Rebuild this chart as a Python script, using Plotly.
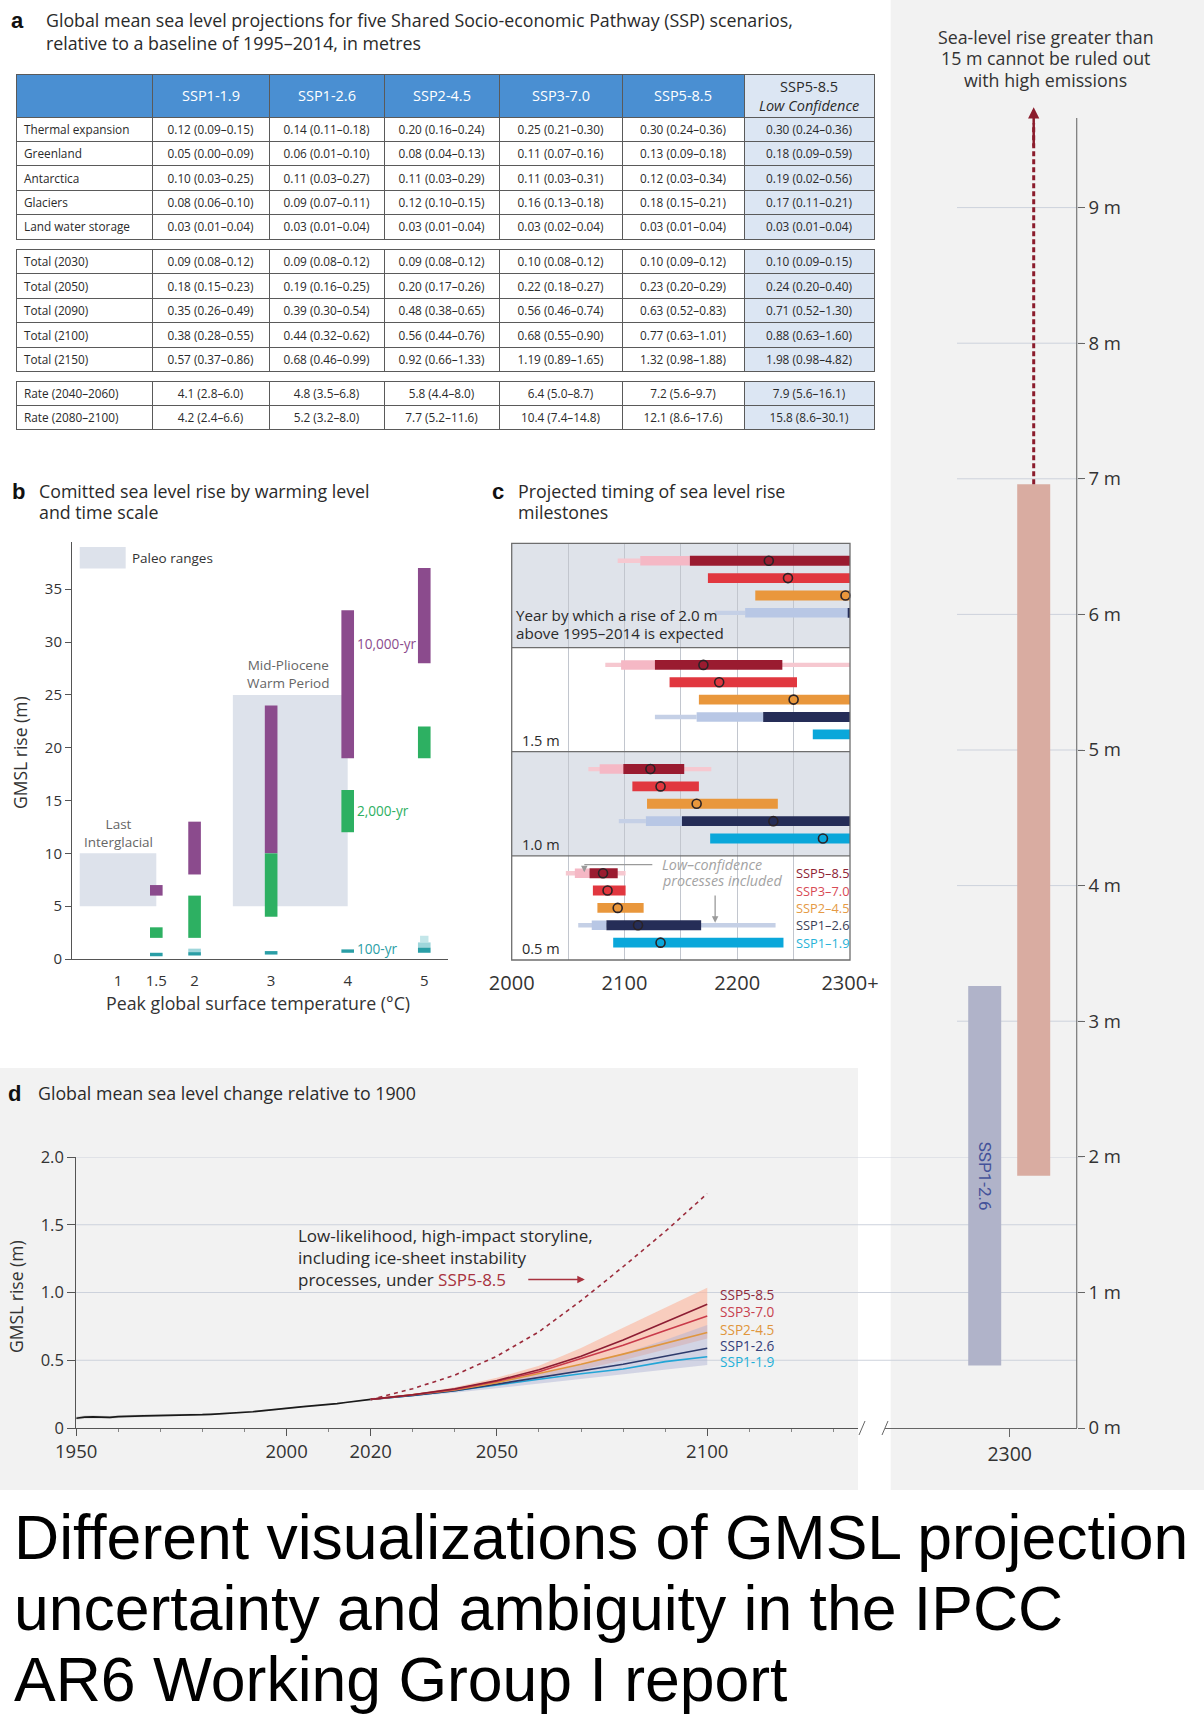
import plotly.graph_objects as go

W, H = 1204, 1722
FONT = "Open Sans"

# ---------------- Panel a : table values ----------------
table_header = ["", "SSP1-1.9", "SSP1-2.6", "SSP2-4.5", "SSP3-7.0", "SSP5-8.5",
                "SSP5-8.5<br><i>Low Confidence</i>"]
contrib_labels = ["Thermal expansion", "Greenland", "Antarctica", "Glaciers", "Land water storage"]
contrib_values = [
    ["0.12 (0.09–0.15)", "0.14 (0.11–0.18)", "0.20 (0.16–0.24)", "0.25 (0.21–0.30)", "0.30 (0.24–0.36)", "0.30 (0.24–0.36)"],
    ["0.05 (0.00–0.09)", "0.06 (0.01–0.10)", "0.08 (0.04–0.13)", "0.11 (0.07–0.16)", "0.13 (0.09–0.18)", "0.18 (0.09–0.59)"],
    ["0.10 (0.03–0.25)", "0.11 (0.03–0.27)", "0.11 (0.03–0.29)", "0.11 (0.03–0.31)", "0.12 (0.03–0.34)", "0.19 (0.02–0.56)"],
    ["0.08 (0.06–0.10)", "0.09 (0.07–0.11)", "0.12 (0.10–0.15)", "0.16 (0.13–0.18)", "0.18 (0.15–0.21)", "0.17 (0.11–0.21)"],
    ["0.03 (0.01–0.04)", "0.03 (0.01–0.04)", "0.03 (0.01–0.04)", "0.03 (0.02–0.04)", "0.03 (0.01–0.04)", "0.03 (0.01–0.04)"],
]
total_labels = ["Total (2030)", "Total (2050)", "Total (2090)", "Total (2100)", "Total (2150)"]
total_values = [
    ["0.09 (0.08–0.12)", "0.09 (0.08–0.12)", "0.09 (0.08–0.12)", "0.10 (0.08–0.12)", "0.10 (0.09–0.12)", "0.10 (0.09–0.15)"],
    ["0.18 (0.15–0.23)", "0.19 (0.16–0.25)", "0.20 (0.17–0.26)", "0.22 (0.18–0.27)", "0.23 (0.20–0.29)", "0.24 (0.20–0.40)"],
    ["0.35 (0.26–0.49)", "0.39 (0.30–0.54)", "0.48 (0.38–0.65)", "0.56 (0.46–0.74)", "0.63 (0.52–0.83)", "0.71 (0.52–1.30)"],
    ["0.38 (0.28–0.55)", "0.44 (0.32–0.62)", "0.56 (0.44–0.76)", "0.68 (0.55–0.90)", "0.77 (0.63–1.01)", "0.88 (0.63–1.60)"],
    ["0.57 (0.37–0.86)", "0.68 (0.46–0.99)", "0.92 (0.66–1.33)", "1.19 (0.89–1.65)", "1.32 (0.98–1.88)", "1.98 (0.98–4.82)"],
]
rate_labels = ["Rate (2040–2060)", "Rate (2080–2100)"]
rate_values = [
    ["4.1 (2.8–6.0)", "4.8 (3.5–6.8)", "5.8 (4.4–8.0)", "6.4 (5.0–8.7)", "7.2 (5.6–9.7)", "7.9 (5.6–16.1)"],
    ["4.2 (2.4–6.6)", "5.2 (3.2–8.0)", "7.7 (5.2–11.6)", "10.4 (7.4–14.8)", "12.1 (8.6–17.6)", "15.8 (8.6–30.1)"],
]

# ---------------- Panel b : committed sea level rise ----------------
b_warming = [1.5, 2, 3, 4, 5]
b_tick_vals = [1, 1.5, 2, 3, 4, 5]
b_tick_text = ["1", "1.5", "2", "3", "4", "5"]
b_yr10000_lo = [6, 8, 10, 19, 28]
b_yr10000_hi = [7, 13, 24, 33, 37]
b_yr2000_lo = [2, 2, 4, 12, 19]
b_yr2000_hi = [3, 6, 10, 16, 22]
b_yr100_lo = [0.26, 0.33, 0.42, 0.59, 0.59]
b_yr100_hi = [0.59, 0.65, 0.75, 0.91, 1.08]
b_yr100_lc_lo = [None, 0.65, None, None, 1.08]
b_yr100_lc_hi = [None, 0.98, None, None, 1.57]
b_yr100_lc2_lo = [None, None, None, None, 1.57]
b_yr100_lc2_hi = [None, None, None, None, 2.2]
paleo_names = ["Last<br>Interglacial", "Mid-Pliocene<br>Warm Period"]
paleo_temp_lo = [0.5, 2.5]
paleo_temp_hi = [1.5, 4.0]
paleo_gmsl_lo = [5, 5]
paleo_gmsl_hi = [10, 25]

# ---------------- Panel c : milestone timing ----------------
c_levels = ["2.0 m", "1.5 m", "1.0 m", "0.5 m"]
c_scenarios = ["SSP5–8.5", "SSP3–7.0", "SSP2–4.5", "SSP1–2.6", "SSP1–1.9"]
c_main_lo = [[2158, 2174, 2216, 2298.5, None], [2127, 2140, 2166, 2223, 2267],
             [2099, 2107, 2120, 2151, 2176], [2069, 2072, 2076, 2084, 2090]]
c_main_hi = [[2300, 2300, 2300, 2300, None], [2240, 2253, 2300, 2300, 2300],
             [2153, 2166, 2236, 2300, 2300], [2094, 2101, 2117, 2168, 2241]]
c_lowconf_lo = [[2114, None, None, 2207, None], [2097, None, None, 2164, None],
                [2078, None, None, 2119, None], [2056, None, None, 2071, None]]
c_lowconf_hi = [[2158, None, None, 2298.5, None], [2127, None, None, 2223, None],
                [2099, None, None, 2151, None], [2069, None, None, 2084, None]]
c_tail_lo = [[2094, None, None, 2180, None], [2083, None, None, 2127, None],
             [2068, None, None, 2095, None], [2048, None, None, 2059, None]]
c_tail_hi = [[2114, None, None, 2207, None], [2300, None, None, 2164, None],
             [2177, None, None, 2119, None], [2101, None, None, 2234, None]]
c_median = [[2228, 2245, 2296, None, None], [2170, 2184, 2250, None, None],
            [2123, 2132, 2164, 2232, 2276], [2081, 2085, 2094, 2112, 2132]]

# ---------------- Panel d : GMSL change relative to 1900 ----------------
obs_years = [1950, 1952, 1954, 1956, 1958, 1960, 1962, 1964, 1966, 1968, 1970, 1972,
             1974, 1976, 1978, 1980, 1982, 1984, 1986, 1988, 1990, 1992, 1994, 1996,
             1998, 2000, 2002, 2004, 2006, 2008, 2010, 2012, 2014, 2016, 2018, 2020]
obs_gmsl = [0.072, 0.080, 0.082, 0.080, 0.078, 0.084, 0.088, 0.087, 0.089, 0.090, 0.091, 0.090,
            0.092, 0.094, 0.095, 0.098, 0.101, 0.104, 0.109, 0.112, 0.116, 0.120, 0.127, 0.134,
            0.138, 0.144, 0.152, 0.158, 0.163, 0.167, 0.172, 0.180, 0.188, 0.196, 0.203, 0.211]
obs_unc = [0.012, 0.012, 0.012, 0.011, 0.011, 0.011, 0.010, 0.010, 0.010, 0.009, 0.009, 0.009,
           0.008, 0.008, 0.008, 0.007, 0.007, 0.007, 0.006, 0.006, 0.006, 0.005, 0.005, 0.005,
           0.005, 0.004, 0.004, 0.004, 0.004, 0.004, 0.004, 0.004, 0.004, 0.004, 0.004, 0.004]
proj_years = [2020, 2030, 2040, 2050, 2060, 2070, 2080, 2090, 2100]
proj_ssp585 = [0.211, 0.245, 0.29, 0.35, 0.43, 0.53, 0.65, 0.78, 0.914]
proj_ssp370 = [0.211, 0.245, 0.285, 0.345, 0.415, 0.51, 0.61, 0.72, 0.826]
proj_ssp245 = [0.211, 0.243, 0.28, 0.335, 0.40, 0.47, 0.545, 0.625, 0.705]
proj_ssp126 = [0.211, 0.24, 0.275, 0.325, 0.375, 0.425, 0.47, 0.53, 0.588]
proj_ssp119 = [0.211, 0.24, 0.275, 0.32, 0.36, 0.40, 0.435, 0.49, 0.526]
band585_hi = [0.211, 0.25, 0.30, 0.37, 0.46, 0.59, 0.74, 0.89, 1.035]
band585_lo = [0.211, 0.24, 0.275, 0.32, 0.37, 0.43, 0.50, 0.58, 0.66]
band126_hi = [0.211, 0.245, 0.285, 0.34, 0.40, 0.47, 0.55, 0.65, 0.76]
band126_lo = [0.211, 0.232, 0.26, 0.295, 0.33, 0.36, 0.395, 0.43, 0.465]
storyline = [0.211, 0.29, 0.39, 0.53, 0.71, 0.94, 1.19, 1.45, 1.73]
d_labels = ["SSP5-8.5", "SSP3-7.0", "SSP2-4.5", "SSP1-2.6", "SSP1-1.9"]
d_label_y = [0.986, 0.858, 0.728, 0.612, 0.489]

# ---------------- Right panel : 2300 projections ----------------
r_scenarios = ["SSP1-2.6", "SSP5-8.5"]
r_lo = [0.46, 1.86]
r_hi = [3.26, 6.96]
r_storyline_top = 9.74

# ================= helpers =================
def px_x(p):
    return p / W

def px_y(p):
    return 1 - p / H

fig = go.Figure()
ann = []


def add_text(text, x, y, size=14, color="#333", xref="paper", yref="paper", xanchor="left",
             yanchor="middle", family=FONT, align="left", **kw):
    if xref == "paper":
        x = px_x(x)
    if yref == "paper":
        y = px_y(y)
    ann.append(dict(text=text, x=x, y=y, xref=xref, yref=yref, xanchor=xanchor, yanchor=yanchor,
                    showarrow=False, align=align, font=dict(size=size, color=color, family=family), **kw))


def add_lines(lines, x, y0, step, **kw):
    for i, line in enumerate(lines):
        add_text(line, x, y0 + step * i, **kw)


# ---------- tables ----------
colw = [136, 117, 115, 115, 123, 122, 130]
TBL_LEFT, TBL_RIGHT = 16, 874
TBL_X = [px_x(TBL_LEFT), px_x(TBL_RIGHT)]
HDR_TOP, HDR_H = 74, 43
hdr_fill = ["#4a8fd2"] * 6 + ["#dce6f3"]
hdr_font = ["white"] * 6 + ["#2a2a2a"]
cell_fill = ["white"] * 6 + ["#dce6f3"]
ROW_H = 24.4
cell_font = dict(family=FONT, size=11.8, color="#2a2a2a")
cell_align = ["left"] + ["center"] * 6
cell_line = dict(color="#5a5a5a", width=1)


def add_table(labels, rows, top, with_col_header):
    cols = [labels] + [[r[i] for r in rows] for i in range(len(rows[0]))]
    if with_col_header:
        header = dict(values=[""] * len(table_header), height=HDR_H, align="center",
                      fill=dict(color=hdr_fill), line=cell_line,
                      font=dict(family=FONT, size=12, color=hdr_font))
        cells_vals = cols
        bottom = top + HDR_H + ROW_H * len(labels) + 8
    else:
        # first data row of the group rendered in the header slot, styled like a body row
        header = dict(values=[c[0] for c in cols], height=ROW_H, align=cell_align,
                      fill=dict(color=cell_fill), line=cell_line, font=cell_font)
        cells_vals = [c[1:] for c in cols]
        bottom = top + ROW_H * len(labels) + 8
    fig.add_trace(go.Table(
        domain=dict(x=TBL_X, y=[px_y(bottom), px_y(top)]),
        columnwidth=colw, header=header,
        cells=dict(values=cells_vals, height=ROW_H, align=cell_align,
                   fill=dict(color=cell_fill), line=cell_line, font=cell_font)))


add_table(contrib_labels, contrib_values, HDR_TOP, True)
add_table(total_labels, total_values, 249.5, False)
add_table(rate_labels, rate_values, 381, False)

edge = TBL_LEFT
for i, (lab, w) in enumerate(zip(table_header, colw)):
    if lab:
        add_text(lab, edge + w / 2, HDR_TOP + HDR_H / 2 + 0.5, size=14.5, color=hdr_font[i],
                 xanchor="center", align="center")
    edge += w

# ---------- panel b ----------
fig.add_trace(go.Bar(
    x=[(a + b) / 2 for a, b in zip(paleo_temp_lo, paleo_temp_hi)],
    y=[h - l for l, h in zip(paleo_gmsl_lo, paleo_gmsl_hi)], base=paleo_gmsl_lo,
    width=[b - a for a, b in zip(paleo_temp_lo, paleo_temp_hi)],
    marker=dict(color="#dde2eb", line=dict(width=0)), xaxis="x", yaxis="y", hoverinfo="skip"))


def bbar(lo, hi, color, width=0.165):
    xs, ys, bs = [], [], []
    for t, l, h in zip(b_warming, lo, hi):
        if l is None:
            continue
        xs.append(t); ys.append(h - l); bs.append(l)
    fig.add_trace(go.Bar(x=xs, y=ys, base=bs, width=width, xaxis="x", yaxis="y",
                         marker=dict(color=color, line=dict(width=0)), hoverinfo="skip"))


bbar(b_yr10000_lo, b_yr10000_hi, "#8b4b8d")
bbar(b_yr2000_lo, b_yr2000_hi, "#2db062")
bbar(b_yr100_lc2_lo, b_yr100_lc2_hi, "#c3e6e9", 0.11)
bbar(b_yr100_lc_lo, b_yr100_lc_hi, "#9fd6db")
bbar(b_yr100_lo, b_yr100_hi, "#2a9ea6")

# ---------- panel c ----------
def crow(k, s):
    return 6 * k + s + 1


def cbars(lo_tab, hi_tab, colors, width):
    xs, ys, bs, cs = [], [], [], []
    for k in range(len(c_levels)):
        for s in range(len(c_scenarios)):
            lo, hi = lo_tab[k][s], hi_tab[k][s]
            if lo is None:
                continue
            xs.append(hi - lo); bs.append(lo); ys.append(crow(k, s)); cs.append(colors[s])
    fig.add_trace(go.Bar(x=xs, y=ys, base=bs, orientation="h", width=width,
                         marker=dict(color=cs, line=dict(width=0)),
                         xaxis="x2", yaxis="y2", hoverinfo="skip"))


c_main_color = ["#9a1b30", "#e1373f", "#e9973c", "#252d57", "#0aa7da"]
c_light_color = ["#f5b8c5", "#f5b8c5", "#f5b8c5", "#b8c7e5", "#b8c7e5"]
c_thin_color = ["#f6c8d0", "#f6c8d0", "#f6c8d0", "#c5d0e6", "#c5d0e6"]
c_label_color = ["#8e2233", "#d84a55", "#e59a45", "#3b3f58", "#27b3d8"]

cbars(c_tail_lo, c_tail_hi, c_thin_color, 0.25)
cbars(c_lowconf_lo, c_lowconf_hi, c_light_color, 0.55)
cbars(c_main_lo, c_main_hi, c_main_color, 0.57)

mx, my = [], []
for k in range(len(c_levels)):
    for s in range(len(c_scenarios)):
        if c_median[k][s] is not None:
            mx.append(c_median[k][s]); my.append(crow(k, s))
fig.add_trace(go.Scatter(x=mx, y=my, mode="markers", xaxis="x2", yaxis="y2", cliponaxis=False,
                         marker=dict(symbol="circle-open", size=9, color="#2a2226", line=dict(width=1.6)),
                         hoverinfo="skip"))

# ---------- panel d ----------
fig.add_trace(go.Scatter(x=obs_years, y=[v - u for v, u in zip(obs_gmsl, obs_unc)], mode="lines",
                         line=dict(width=0), xaxis="x3", yaxis="y3", hoverinfo="skip"))
fig.add_trace(go.Scatter(x=obs_years, y=[v + u for v, u in zip(obs_gmsl, obs_unc)], mode="lines",
                         line=dict(width=0), fill="tonexty", fillcolor="rgba(160,160,160,0.35)",
                         xaxis="x3", yaxis="y3", hoverinfo="skip"))
fig.add_trace(go.Scatter(x=proj_years, y=band585_lo, mode="lines", line=dict(width=0),
                         xaxis="x3", yaxis="y3", hoverinfo="skip"))
fig.add_trace(go.Scatter(x=proj_years, y=band585_hi, mode="lines", line=dict(width=0),
                         fill="tonexty", fillcolor="rgba(250,185,162,0.65)",
                         xaxis="x3", yaxis="y3", hoverinfo="skip"))
fig.add_trace(go.Scatter(x=proj_years, y=band126_lo, mode="lines", line=dict(width=0),
                         xaxis="x3", yaxis="y3", hoverinfo="skip"))
fig.add_trace(go.Scatter(x=proj_years, y=band126_hi, mode="lines", line=dict(width=0),
                         fill="tonexty", fillcolor="rgba(170,176,210,0.45)",
                         xaxis="x3", yaxis="y3", hoverinfo="skip"))
fig.add_trace(go.Scatter(x=obs_years, y=obs_gmsl, mode="lines", line=dict(color="#1a1a1a", width=1.7),
                         xaxis="x3", yaxis="y3", hoverinfo="skip"))
d_line_color = ["#8c1d33", "#c93a4a", "#df963f", "#2d3a6b", "#22a5d6"]
for vals, col in zip([proj_ssp119, proj_ssp126, proj_ssp245, proj_ssp370, proj_ssp585],
                     d_line_color[::-1]):
    fig.add_trace(go.Scatter(x=proj_years, y=vals, mode="lines", line=dict(color=col, width=1.6),
                             xaxis="x3", yaxis="y3", hoverinfo="skip"))
fig.add_trace(go.Scatter(x=proj_years, y=storyline, mode="lines",
                         line=dict(color="#9b2a3a", width=1.6, dash="4px,4px"),
                         xaxis="x3", yaxis="y3", hoverinfo="skip"))

# ---------- right panel ----------
r_offsets = [-25, 24]
fig.add_trace(go.Bar(x=[2300 + o for o in r_offsets], y=[h - l for l, h in zip(r_lo, r_hi)], base=r_lo,
                     width=33, marker=dict(color=["#b0b3c9", "#d9aca1"], line=dict(width=0)),
                     xaxis="x4", yaxis="y4", hoverinfo="skip"))
fig.add_trace(go.Scatter(x=[2300 + r_offsets[1]] * 2, y=[r_hi[1], r_storyline_top - 0.12], mode="lines",
                         line=dict(color="#8b1c2c", width=3, dash="5px,3px"),
                         xaxis="x4", yaxis="y4", hoverinfo="skip"))

# ================= shapes =================
shapes = []
shapes.append(dict(type="rect", xref="paper", yref="paper", x0=0, x1=px_x(858),
                   y0=px_y(1490), y1=px_y(1068), fillcolor="#f2f2f2", line=dict(width=0), layer="below"))
shapes.append(dict(type="rect", xref="paper", yref="paper", x0=px_x(890.7), x1=1,
                   y0=px_y(1490), y1=px_y(0), fillcolor="#f2f2f2", line=dict(width=0), layer="below"))
for v in [0.5, 1.0, 1.5, 2.0]:
    x_end = 1083 if v in (1.0, 2.0) else 1076.7
    shapes.append(dict(type="line", xref="paper", yref="y3", x0=px_x(76.2), x1=px_x(x_end),
                       y0=v, y1=v, line=dict(color="#cdd2dc", width=1), layer="below"))
for v in range(3, 10):
    shapes.append(dict(type="line", xref="paper", yref="y4", x0=px_x(957), x1=px_x(1083),
                       y0=v, y1=v, line=dict(color="#cdd2dc", width=1), layer="below"))
shapes.append(dict(type="line", xref="paper", yref="y4", x0=px_x(1076.7), x1=px_x(1076.7),
                   y0=0, y1=9.66, line=dict(color="#777", width=1.2)))
for bx in [862, 885]:
    shapes.append(dict(type="line", xref="paper", yref="paper", x0=px_x(bx - 3), x1=px_x(bx + 3),
                       y0=px_y(1435), y1=px_y(1421), line=dict(color="#666", width=1)))
for k in [0, 2]:
    shapes.append(dict(type="rect", xref="x2", yref="y2", x0=2000, x1=2300, y0=6 * k, y1=6 * k + 6,
                       fillcolor="#dfe3ea", line=dict(width=0), layer="below"))
for k in [1, 2, 3]:
    shapes.append(dict(type="line", xref="x2", yref="y2", x0=2000, x1=2300, y0=6 * k, y1=6 * k,
                       line=dict(color="#6e6e6e", width=1.3)))
shapes.append(dict(type="rect", xref="paper", yref="paper", x0=px_x(511.7), x1=px_x(850),
                   y0=px_y(960), y1=px_y(543.4), line=dict(color="#6e6e6e", width=1.3)))
shapes.append(dict(type="line", xref="x2", yref="y2", x0=2124.7, x1=2064.4, y0=18.5, y1=18.5,
                   line=dict(color="#9a9a9a", width=1.3)))
shapes.append(dict(type="rect", xref="x", yref="y", x0=0.5, x1=1.1, y0=36.96, y1=39.0,
                   fillcolor="#dde2eb", line=dict(width=0)))

# ================= annotations =================
add_text("<b>a</b>", 9, 20, size=22, color="#111", family="Liberation Sans")
add_text("Global mean sea level projections for five Shared Socio-economic Pathway (SSP) scenarios,"
         "<br>relative to a baseline of 1995–2014, in metres", 44, 31.5, size=17.8, color="#2a2a2a")
add_text("<b>b</b>", 10, 491, size=22, color="#111", family="Liberation Sans")
add_lines(["Comitted sea level rise by warming level", "and time scale"], 37, 491, 21,
          size=17.8, color="#2a2a2a")
add_text("<b>c</b>", 490, 491, size=22, color="#111", family="Liberation Sans")
add_lines(["Projected timing of sea level rise", "milestones"], 516, 491, 21, size=17.8, color="#2a2a2a")
add_text("<b>d</b>", 6, 1093, size=22, color="#111", family="Liberation Sans")
add_text("Global mean sea level change relative to 1900", 36, 1093, size=17.8, color="#2a2a2a")

add_text("Peak global surface temperature (°C)", 258, 1003, size=17.8, xanchor="center")
add_text("GMSL rise (m)", 20, 753, size=17.5, xanchor="center", textangle=-90)
add_text("Paleo ranges", 1.15, 38.0, size=13.5, xref="x", yref="y")
for name, lo, hi, top in zip(paleo_names, paleo_temp_lo, paleo_temp_hi, paleo_gmsl_hi):
    xc = 1.0 if top < 15 else 3.23
    add_text(name, xc, top + (1.9 if top < 15 else 1.95), size=13.5, color="#666", xref="x", yref="y",
             xanchor="center", align="center")
add_text("10,000-yr", 4.1, 29.85, size=13.6, color="#8b4b8d", xref="x", yref="y")
add_text("2,000-yr", 4.1, 14.1, size=13.6, color="#2db062", xref="x", yref="y")
add_text("100-yr", 4.1, 1.04, size=13.6, color="#2a9ea6", xref="x", yref="y")

add_lines(["Year by which a rise of 2.0 m", "above 1995–2014 is expected"], 2002, 4.1, 1.04,
          size=15.2, color="#2a2a2a", xref="x2", yref="y2")
for k, lvl in enumerate(c_levels[1:], start=1):
    add_text(lvl, 2007, 6 * k + 5.35, size=14.5, color="#2a2a2a", xref="x2", yref="y2")
add_lines(["<i>Low–confidence</i>", "<i>processes included</i>"], 2131.8, 18.51, 0.92,
          size=14.3, color="#a3a3a3", xref="x2", yref="y2")
for s, lab in enumerate(c_scenarios):
    add_text(lab, 2250.6, crow(3, s), size=12.8, color=c_label_color[s], xref="x2", yref="y2")
ann.append(dict(x=2064.4, y=18.95, ax=2064.4, ay=18.5, xref="x2", yref="y2", axref="x2", ayref="y2",
                showarrow=True, arrowhead=2, arrowsize=1, arrowwidth=1.3, arrowcolor="#9a9a9a", text=""))
ann.append(dict(x=2180.4, y=21.85, ax=2180.4, ay=20.2, xref="x2", yref="y2", axref="x2", ayref="y2",
                showarrow=True, arrowhead=2, arrowsize=1, arrowwidth=1.3, arrowcolor="#9a9a9a", text=""))

add_text("GMSL rise (m)", 16, 1297, size=17.5, xanchor="center", textangle=-90)
add_text("Low-likelihood, high-impact storyline,<br>including ice-sheet instability<br>"
         "processes, under <span style='color:#a8323e'>SSP5-8.5</span>", 2002.2, 1.259, size=17,
         color="#2a2a2a", xref="x3", yref="y3")
ann.append(dict(x=2070.9, y=1.096, ax=2057.1, ay=1.096, xref="x3", yref="y3", axref="x3", ayref="y3",
                showarrow=True, arrowhead=2, arrowsize=1, arrowwidth=1.5, arrowcolor="#a8323e", text=""))
d_label_color = ["#8e2a3c", "#c8404e", "#e0963c", "#33407a", "#1fb0d8"]
for lab, yv, col in zip(d_labels, d_label_y, d_label_color):
    add_text(lab, 2102.5, yv, size=13.6, color=col, xref="x3", yref="y3")

add_lines(["Sea-level rise greater than", "15 m cannot be ruled out", "with high emissions"],
          1045.7, 37, 21.3, size=17.8, xanchor="center", align="center")
add_text(r_scenarios[0], 2300 + r_offsets[0], 1.855, size=17, color="#44529a", xref="x4", yref="y4",
         xanchor="center", textangle=90, family="Roboto")
ann.append(dict(x=2300 + r_offsets[1], y=r_storyline_top, ax=2300 + r_offsets[1], ay=r_storyline_top - 0.3,
                xref="x4", yref="y4", axref="x4", ayref="y4", showarrow=True, arrowhead=2,
                arrowsize=0.9, arrowwidth=2.5, arrowcolor="#8b1c2c", text=""))

caption_lines = ["Different visualizations of GMSL projection",
                 "uncertainty and ambiguity in the IPCC",
                 "AR6 Working Group I report"]
add_lines(caption_lines, 12, 1537, 71, size=62.5, color="#000", family="Liberation Sans")

# ================= layout =================
axis_common = dict(showgrid=False, zeroline=False)
fig.update_layout(
    width=W, height=H, margin=dict(l=0, r=0, t=0, b=0),
    paper_bgcolor="white", plot_bgcolor="rgba(0,0,0,0)",
    font=dict(family=FONT, color="#333"),
    showlegend=False, barmode="overlay", template="none",
    shapes=shapes, annotations=ann,
    xaxis=dict(domain=[px_x(72), px_x(448)], range=[0.399, 5.31], anchor="y",
               showline=True, linecolor="#555", linewidth=1, ticks="outside", ticklen=8,
               tickcolor="rgba(0,0,0,0)", tickvals=b_tick_vals, ticktext=b_tick_text,
               tickfont=dict(size=15, color="#333"), **axis_common),
    yaxis=dict(domain=[px_y(959), px_y(541.7)], range=[0, 39.5], anchor="x",
               showline=True, linecolor="#555", linewidth=1, ticks="outside", ticklen=6,
               tickcolor="#555", tickvals=[0, 5, 10, 15, 20, 25, 30, 35],
               tickfont=dict(size=15, color="#333"), **axis_common),
    xaxis2=dict(domain=[px_x(511.7), px_x(850)], range=[2000, 2300], anchor="y2",
                tickvals=[2000, 2100, 2200, 2300], ticktext=["2000", "2100", "2200", "2300+"],
                ticks="outside", ticklen=5, tickcolor="rgba(0,0,0,0)",
                tickfont=dict(size=20, color="#333"), showgrid=True, gridcolor="#c2c6ce", gridwidth=1,
                minor=dict(tick0=2000, dtick=50, showgrid=True, gridcolor="#c2c6ce", gridwidth=1),
                showline=False, zeroline=False),
    yaxis2=dict(domain=[px_y(960), px_y(543.4)], range=[24, 0], anchor="x2",
                showticklabels=False, ticks="", showline=False, **axis_common),
    xaxis3=dict(domain=[px_x(76.2), px_x(858)], range=[1950, 1950 + (858 - 76.2) / 4.207], anchor="y3",
                tickvals=[1950, 2000, 2020, 2050, 2100], ticks="outside", ticklen=7, tickcolor="#555",
                minor=dict(dtick=10, tick0=1950, ticks="outside", ticklen=3, tickcolor="#888"),
                showline=True, linecolor="#555", linewidth=1,
                tickfont=dict(size=18.5, color="#333"), **axis_common),
    yaxis3=dict(domain=[px_y(1428), px_y(1157)], range=[0, 2], anchor="x3",
                tickvals=[0, 0.5, 1, 1.5, 2], ticktext=["0", "0.5", "1.0", "1.5", "2.0"],
                ticks="outside", ticklen=8, tickcolor="#555", showline=True, linecolor="#555",
                tickfont=dict(size=16.5, color="#333"), **axis_common),
    xaxis4=dict(domain=[px_x(885), px_x(1076.7)], range=[2300 - (1009.7 - 885), 2300 + (1076.7 - 1009.7)],
                anchor="y4", tickvals=[2300], ticks="outside", ticklen=8, tickcolor="#666",
                showline=True, linecolor="#666", linewidth=1.2,
                tickfont=dict(size=19.5, color="#333"), **axis_common),
    yaxis4=dict(domain=[px_y(1428), px_y(1428 - 9.8 * 135.6)], range=[0, 9.8], anchor="x4", side="right",
                tickvals=list(range(10)), ticktext=[f"{i} m" for i in range(10)],
                ticks="outside", ticklen=7, tickcolor="#666", showline=False,
                tickfont=dict(size=18.5, color="#333"), **axis_common),
)

fig.write_html("out.html", config={"displayModeBar": False},
               post_script="document.body.style.margin='0px';")
